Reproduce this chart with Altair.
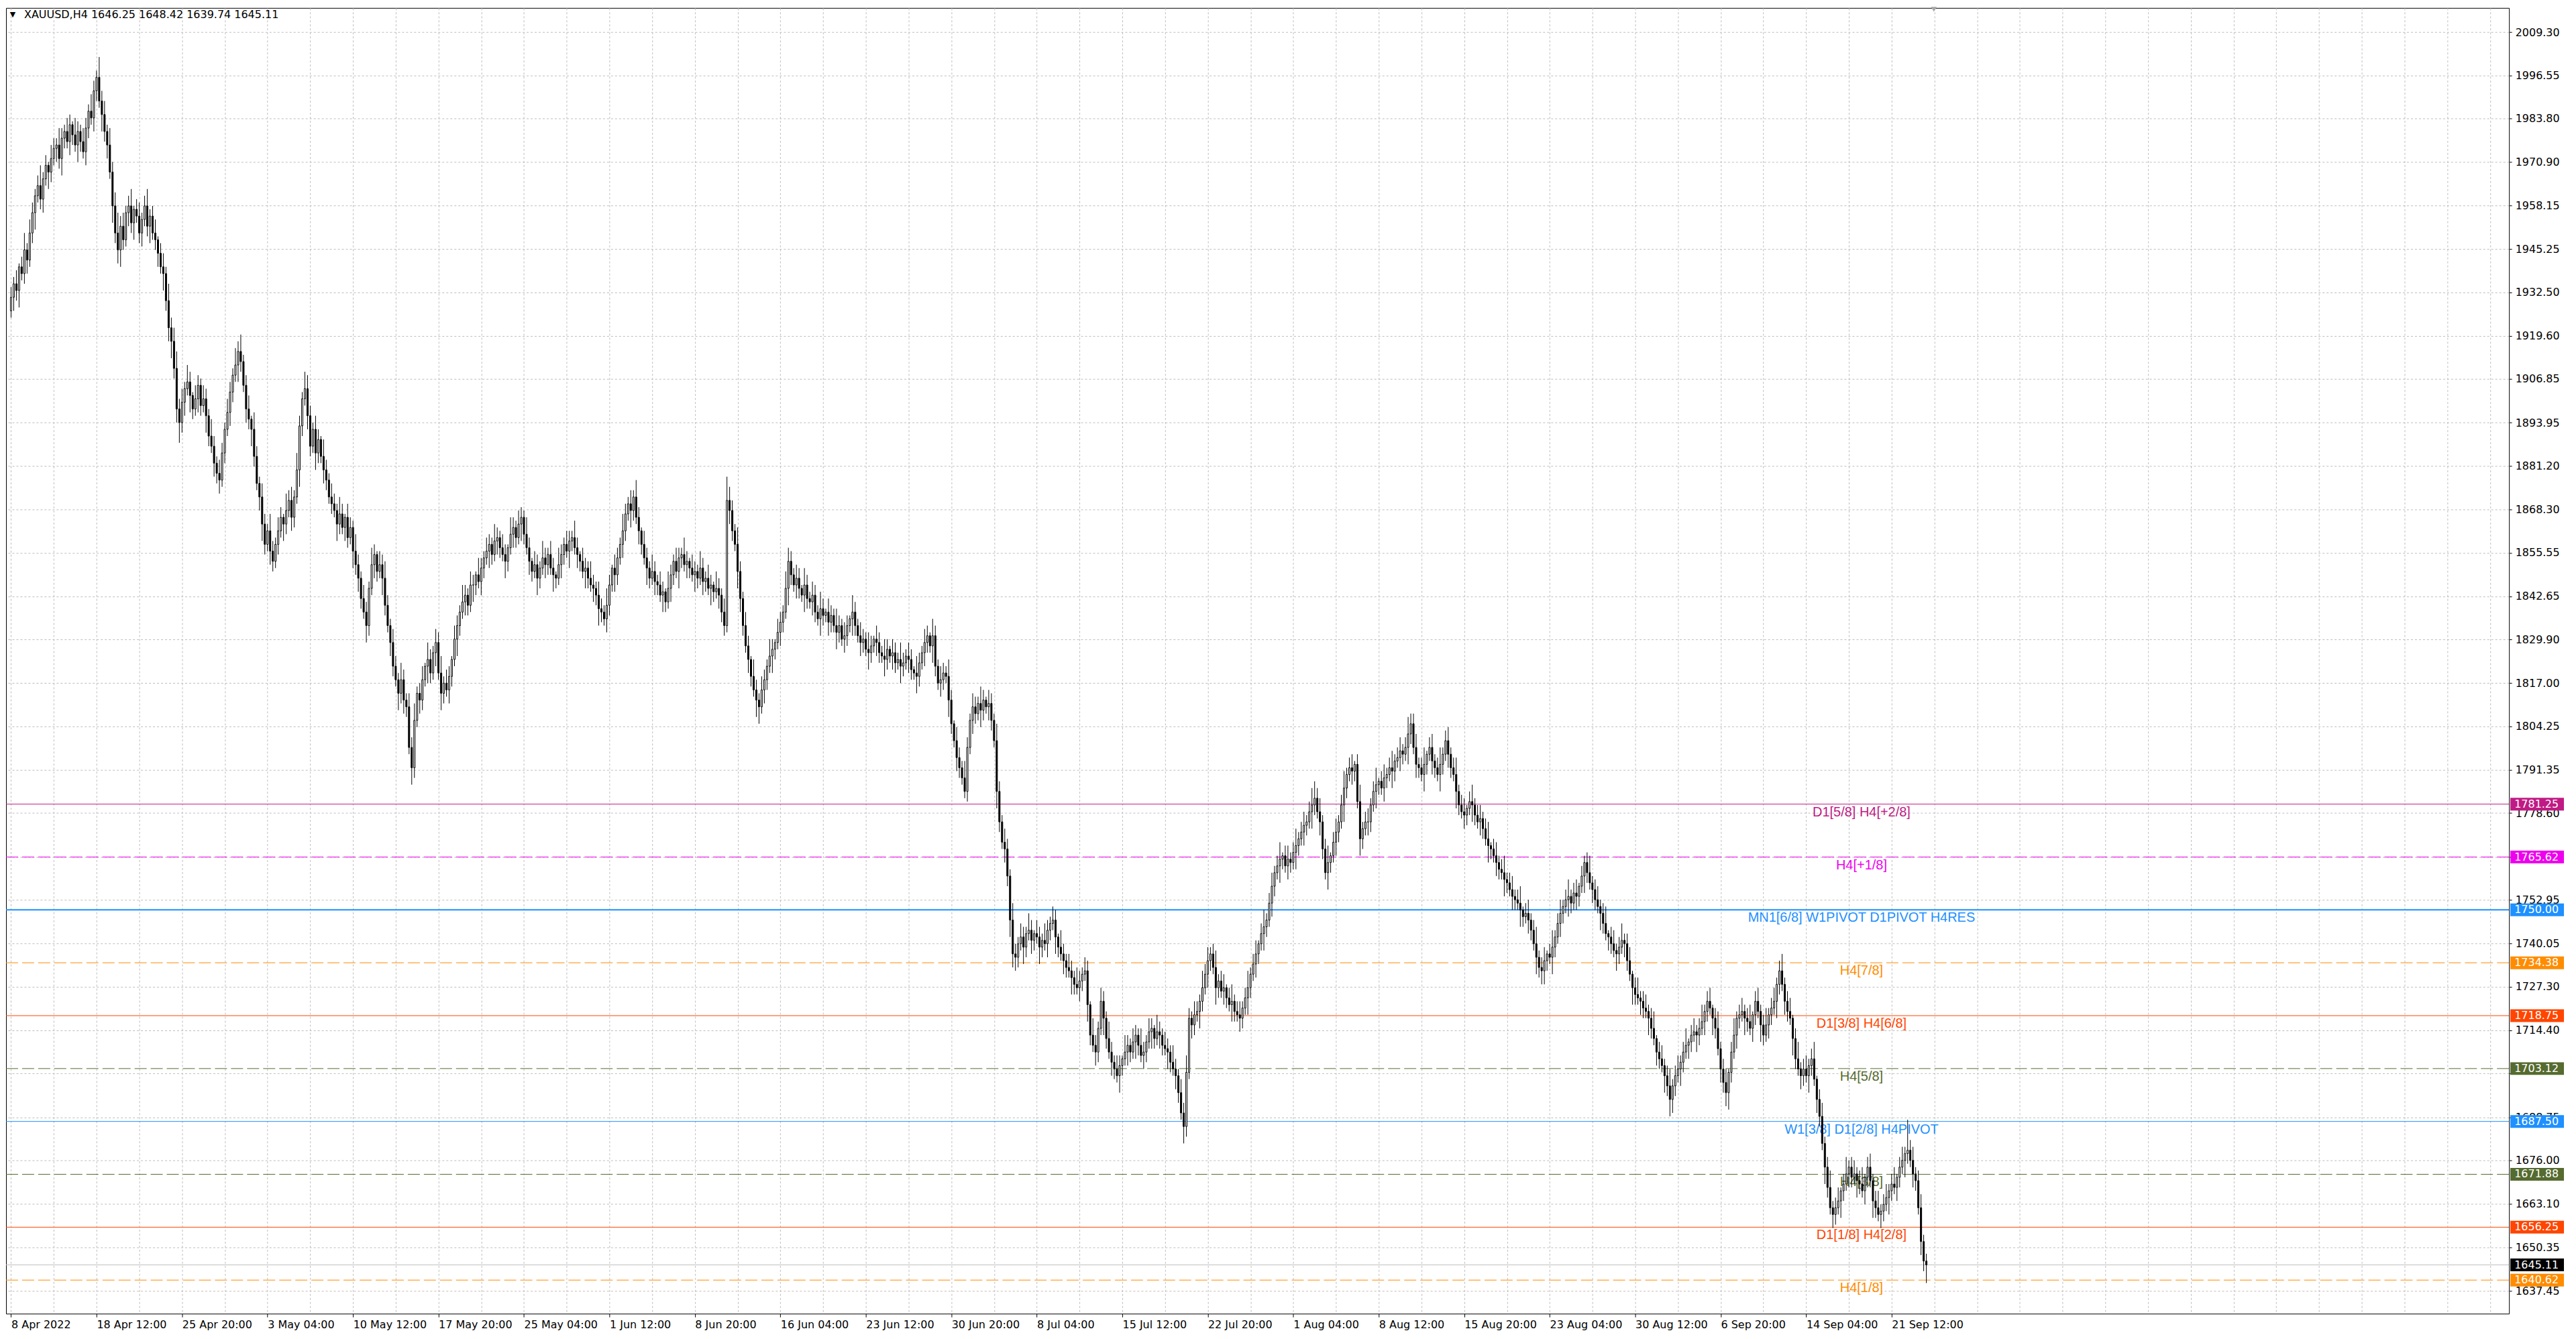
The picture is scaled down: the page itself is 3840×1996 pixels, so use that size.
import altair as alt
import pandas as pd

symbol = "XAUUSD,H4"
first_open = 1927.0

closes = [
    1931,1935,1933,1940,1938,1945,1942,1950,1956,1961,1964,1960,1966,1970,1968,1972,1975,1976,1972,1978,
    1980,1977,1982,1979,1976,1980,1977,1974,1981,1986,1984,1992,1996,1989,1985,1980,1976,1968,1958,1950,
    1945,1952,1948,1956,1958,1953,1957,1955,1950,1954,1958,1952,1955,1950,1948,1944,1940,1938,1930,1922,
    1918,1910,1898,1894,1900,1904,1906,1902,1898,1901,1905,1899,1901,1896,1890,1887,1882,1879,1877,1885,
    1892,1897,1903,1908,1911,1915,1912,1905,1898,1895,1892,1884,1876,1872,1864,1858,1862,1856,1853,1858,
    1862,1866,1864,1868,1871,1866,1872,1880,1893,1901,1904,1896,1887,1892,1885,1889,1884,1880,1877,1872,
    1870,1868,1864,1867,1863,1866,1860,1863,1856,1852,1848,1842,1838,1834,1845,1852,1855,1850,1852,1848,
    1840,1834,1829,1822,1818,1814,1818,1812,1810,1798,1792,1806,1814,1812,1818,1822,1824,1820,1826,1829,
    1820,1814,1817,1815,1819,1824,1830,1834,1838,1841,1843,1840,1846,1846,1849,1847,1851,1854,1856,1858,
    1855,1859,1860,1857,1855,1853,1857,1861,1863,1860,1864,1866,1861,1857,1853,1850,1852,1848,1851,1854,
    1852,1855,1851,1849,1848,1852,1855,1858,1856,1859,1860,1857,1855,1853,1850,1851,1848,1846,1845,1843,
    1839,1838,1836,1840,1846,1851,1849,1854,1858,1862,1867,1870,1868,1872,1866,1862,1858,1854,1851,1848,
    1850,1847,1846,1843,1844,1841,1845,1849,1853,1850,1854,1855,1852,1853,1851,1849,1850,1848,1851,1847,
    1848,1845,1846,1844,1845,1843,1838,1834,1871,1868,1862,1858,1850,1842,1834,1828,1824,1819,1815,1812,
    1810,1815,1818,1822,1825,1827,1829,1832,1835,1838,1845,1853,1849,1846,1848,1845,1843,1846,1842,1841,
    1843,1838,1836,1839,1837,1838,1835,1837,1834,1832,1834,1830,1831,1834,1836,1838,1834,1831,1829,1830,
    1827,1826,1828,1830,1829,1826,1825,1824,1827,1825,1826,1823,1824,1822,1823,1825,1824,1821,1820,1819,
    1823,1826,1829,1831,1828,1831,1822,1817,1818,1820,1819,1812,1805,1800,1795,1792,1789,1785,1798,1806,
    1810,1808,1811,1809,1812,1810,1811,1806,1800,1785,1776,1770,1768,1760,1747,1737,1736,1740,1742,1739,
    1743,1744,1741,1743,1742,1739,1741,1740,1744,1746,1747,1742,1739,1737,1735,1733,1732,1730,1728,1727,
    1729,1731,1732,1722,1713,1710,1708,1715,1723,1718,1712,1708,1705,1703,1701,1704,1706,1708,1710,1708,
    1711,1713,1710,1707,1708,1711,1714,1715,1712,1714,1713,1710,1709,1708,1705,1703,1701,1696,1690,1686,
    1702,1718,1716,1719,1720,1723,1727,1731,1735,1737,1733,1727,1729,1726,1727,1724,1722,1723,1720,1719,
    1718,1721,1724,1727,1731,1734,1737,1740,1743,1745,1747,1752,1757,1761,1763,1765,1766,1763,1765,1764,
    1767,1769,1771,1773,1775,1776,1779,1781,1783,1779,1776,1768,1761,1764,1766,1770,1773,1776,1781,1786,
    1790,1792,1791,1793,1782,1771,1774,1776,1776,1781,1785,1787,1788,1786,1789,1790,1792,1791,1794,1795,
    1797,1796,1798,1802,1805,1798,1793,1792,1790,1793,1796,1798,1794,1792,1790,1793,1796,1800,1796,1792,
    1790,1785,1781,1779,1778,1780,1782,1781,1778,1776,1777,1774,1771,1769,1768,1766,1764,1762,1761,1759,
    1758,1756,1754,1753,1752,1750,1748,1749,1747,1744,1740,1736,1733,1732,1735,1737,1736,1739,1742,1746,
    1749,1751,1753,1754,1752,1755,1754,1757,1760,1764,1761,1758,1756,1753,1751,1749,1746,1743,1742,1740,
    1738,1737,1739,1741,1740,1735,1731,1727,1725,1724,1723,1721,1720,1718,1715,1712,1708,1706,1704,1701,
    1698,1694,1698,1701,1703,1705,1708,1710,1711,1713,1714,1713,1715,1717,1720,1723,1721,1718,1715,1709,
    1703,1699,1696,1702,1708,1713,1718,1719,1720,1718,1717,1715,1719,1723,1720,1716,1713,1716,1719,1721,
    1723,1728,1732,1728,1723,1720,1718,1712,1706,1703,1701,1703,1701,1704,1706,1700,1694,1689,1681,1674,
    1668,1662,1660,1662,1664,1667,1669,1672,1674,1671,1672,1670,1669,1667,1671,1674,1670,1664,1662,1660,
    1661,1663,1665,1667,1669,1668,1671,1674,1676,1678,1679,1676,1672,1670,1662,1652,1646.25,1645.11,
]

wick_up = [
    3,2,4,1,3,5,2,4,3,2,3,6,2,3,1,4,3,2,5,3,
    2,4,3,1,5,3,2,4,3,2,5,3,2,6,3,4,2,5,3,4,
    6,3,4,2,3,5,1,3,4,2,3,5,2,3,4,1,3,4,2,5,
    3,4,5,3,4,2,5,3,1,4,3,2,4,3,2,5,3,2,4,3,
    2,4,3,2,5,3,5,2,3,4,1,5,3,2,4,3,2,5,3,2,
    4,3,1,5,3,4,2,5,3,2,5,4,3,2,4,3,1,5,3,2,
    4,3,2,5,3,1,4,3,2,5,3,2,4,3,2,5,3,1,4,3,
    5,3,2,4,3,2,5,3,2,4,3,5,2,3,4,1,5,3,2,4,
    3,5,2,4,3,1,4,3,2,5,3,2,4,3,1,5,3,2,4,3,
    2,5,3,2,4,3,1,5,3,2,4,3,2,5,3,1,4,3,2,5,
    3,2,4,3,1,5,3,2,4,3,2,5,3,1,4,3,2,5,3,2,
    4,3,2,5,3,1,4,3,2,5,3,2,4,2,5,3,1,4,3,2,
    5,3,2,4,3,1,5,3,2,4,3,2,5,3,1,4,3,2,5,3,
    2,4,3,1,5,3,2,4,7,4,3,2,5,3,2,4,3,1,5,3,
    2,4,3,2,5,3,1,4,3,2,5,4,3,2,4,3,1,5,3,2,
    4,3,2,5,3,1,4,3,2,5,3,2,4,3,1,5,3,2,4,3,
    2,5,3,1,4,3,2,5,3,1,4,3,2,5,3,2,4,3,1,5,
    3,2,4,3,1,5,3,2,4,3,2,5,3,1,4,3,2,5,3,2,
    4,3,2,5,3,1,4,3,2,5,3,2,4,3,2,5,3,2,4,3,
    2,5,3,1,4,3,2,5,3,2,4,3,1,5,3,2,4,3,2,5,
    3,2,4,3,1,5,3,2,4,3,2,5,3,2,4,3,1,5,3,2,
    4,3,2,5,3,2,4,3,1,5,3,2,4,3,2,5,3,2,4,3,
    5,3,2,4,3,2,5,3,4,2,3,5,2,3,4,1,3,5,2,3,
    4,2,3,5,2,3,4,1,3,5,2,3,4,2,3,5,1,3,4,2,
    3,5,2,3,4,2,3,5,5,3,4,2,3,5,1,3,4,2,3,5,
    2,3,4,1,3,5,2,3,4,2,3,5,1,3,4,2,3,5,2,3,
    4,2,3,5,3,3,4,2,3,5,1,3,4,2,3,5,2,3,4,2,
    3,5,2,3,4,1,3,5,2,3,4,2,3,5,1,3,4,2,3,5,
    2,3,4,2,3,5,1,3,4,2,3,5,2,3,4,1,3,5,2,3,
    4,2,3,5,2,3,4,1,3,2,3,5,2,3,4,2,3,5,1,3,
    4,2,3,5,2,3,4,1,3,5,2,3,4,2,3,5,1,3,4,2,
    3,5,2,3,4,2,3,5,1,3,4,2,3,5,2,3,4,1,3,5,
    2,3,4,1,3,5,2,3,4,2,3,5,1,3,4,2,3,5,2,3,
    4,2,3,5,2,3,4,1,3,5,2,3,4,2,3,5,1,3,4,2,
    3,5,2,3,4,1,3,5,2,3,4,2,3,5,1,3,4,2,3,5,
    2,3,4,2,3,5,1,3,4,2,9,3,4,2,3,4,2,2.17,
]

wick_dn = [
    2,4,3,5,2,3,4,2,3,5,2,3,4,2,5,3,2,4,3,5,
    3,2,4,3,2,5,3,2,4,3,2,4,3,2,5,3,4,2,5,3,
    4,5,3,2,4,3,5,2,3,4,2,3,5,2,3,4,2,5,3,4,
    5,3,4,6,3,4,2,5,3,2,4,3,2,5,3,2,4,3,4,2,
    3,2,4,3,2,5,3,2,4,3,5,3,2,4,5,3,2,4,3,2,
    3,2,5,3,2,4,3,2,5,3,2,4,3,2,5,3,2,4,3,2,
    3,2,5,3,2,4,3,2,5,3,4,3,2,5,3,2,4,3,2,5,
    3,2,4,3,2,5,3,4,3,2,5,3,2,4,3,2,5,3,2,4,
    2,5,3,2,4,3,2,5,3,2,4,3,2,5,3,2,4,3,2,5,
    3,2,4,3,2,5,3,2,4,3,2,5,3,2,4,3,2,5,3,2,
    4,3,2,5,3,2,4,3,2,5,3,2,4,3,2,5,3,2,4,3,
    5,3,2,4,3,2,5,3,2,4,3,2,5,3,2,4,3,2,5,3,
    2,4,3,2,5,3,2,4,3,2,5,3,2,4,3,2,5,3,2,4,
    3,2,5,3,2,4,3,3,2,4,3,2,5,4,3,2,4,3,2,5,
    5,2,4,3,2,5,3,2,4,3,2,5,3,2,4,3,2,5,3,2,
    4,3,2,5,3,2,4,3,2,5,3,2,4,3,2,5,3,2,4,3,
    2,5,3,2,4,3,2,5,3,2,4,3,2,5,3,2,4,3,2,5,
    3,2,4,3,2,5,3,2,4,3,2,5,3,2,4,3,2,2,3,2,
    4,3,2,5,3,2,4,3,2,5,3,2,4,3,5,4,4,3,2,5,
    3,2,4,3,2,5,3,2,4,3,2,5,3,2,4,3,2,5,3,2,
    4,3,2,5,3,2,4,3,2,5,3,2,4,3,2,5,3,2,4,3,
    2,5,3,2,4,3,2,5,3,2,4,3,2,5,3,2,4,3,2,5,
    3,2,4,3,2,5,3,2,4,3,2,5,3,2,4,3,2,5,3,2,
    4,3,2,5,3,2,4,3,2,5,3,2,4,3,2,5,3,2,4,3,
    2,5,3,2,4,3,2,5,3,2,4,3,2,5,3,2,4,3,2,5,
    3,2,4,3,2,5,3,2,4,3,2,5,3,2,4,3,2,5,3,2,
    4,3,2,5,3,2,4,3,2,5,3,2,4,3,2,5,3,2,4,3,
    2,5,3,2,4,3,2,5,3,2,4,3,2,5,3,2,4,3,2,5,
    3,2,4,3,2,5,3,2,4,3,2,5,3,4,4,3,2,5,3,2,
    4,3,2,5,3,2,4,3,2,5,3,2,4,3,2,5,3,2,4,3,
    2,5,3,2,4,3,2,5,3,2,4,3,2,5,3,2,4,3,2,5,
    3,5,4,3,2,5,3,2,4,3,2,5,3,2,4,3,2,5,3,2,
    4,3,4,5,3,2,4,3,2,5,3,2,4,3,2,5,3,2,4,3,
    2,5,3,2,4,3,2,5,3,2,4,3,2,5,3,2,4,3,2,5,
    3,2,4,3,2,5,3,2,4,3,2,5,3,2,4,3,2,5,3,2,
    4,3,2,5,3,2,4,3,2,5,3,2,4,3,2,4,3,5.37,
]

xlabels = ["8 Apr 2022", "18 Apr 12:00", "25 Apr 20:00", "3 May 04:00", "10 May 12:00",
           "17 May 20:00", "25 May 04:00", "1 Jun 12:00", "8 Jun 20:00", "16 Jun 04:00",
           "23 Jun 12:00", "30 Jun 20:00", "8 Jul 04:00", "15 Jul 12:00", "22 Jul 20:00",
           "1 Aug 04:00", "8 Aug 12:00", "15 Aug 20:00", "23 Aug 04:00", "30 Aug 12:00",
           "6 Sep 20:00", "14 Sep 04:00", "21 Sep 12:00"]

ytick_values = [2009.30, 1996.55, 1983.80, 1970.90, 1958.15, 1945.25, 1932.50, 1919.60,
                1906.85, 1893.95, 1881.20, 1868.30, 1855.55, 1842.65, 1829.90, 1817.00,
                1804.25, 1791.35, 1778.60, 1765.70, 1752.95, 1740.05, 1727.30, 1714.40,
                1701.65, 1688.75, 1676.00, 1663.10, 1650.35, 1637.45]
# tick whose label the reference hides under a price box
hidden_ylabels = [1701.65]

level_values = [1781.25, 1765.62, 1750.00, 1734.38, 1718.75, 1703.12, 1687.50, 1671.88, 1656.25, 1640.62]
level_names = ["D1[5/8] H4[+2/8]", "H4[+1/8]", "MN1[6/8] W1PIVOT D1PIVOT H4RES", "H4[7/8]",
               "D1[3/8] H4[6/8]", "H4[5/8]", "W1[3/8] D1[2/8] H4PIVOT", "H4[3/8]",
               "D1[1/8] H4[2/8]", "H4[1/8]"]

# styles
level_colors = ["#C01A84", "#EE00EE", "#1E90FF", "#FF8C00", "#FF4500", "#556B2F",
                "#1E90FF", "#556B2F", "#FF4500", "#FF8C00"]
level_dashed = [False, True, False, True, False, True, False, True, False, True]
level_widths = [1, 1, 2, 1, 1, 1, 1, 1, 1, 1]

W = 3738
H = 1950
BAR_STEP = 32
GRID_STEP = 16

n = min(len(closes), len(wick_up), len(wick_dn))
opens = [first_open] + closes[:n - 1]
rows = []
for i in range(n):
    o = opens[i]
    c = closes[i]
    rows.append({"i": i, "open": o, "close": c,
                 "high": max(o, c) + wick_up[i],
                 "low": min(o, c) - wick_dn[i]})
df = pd.DataFrame(rows)

last = rows[-1]
header = f"{symbol}  {last['open']:.2f} {last['high']:.2f} {last['low']:.2f} {last['close']:.2f}"

lv = pd.DataFrame({"level": level_values, "name": level_names, "color": level_colors,
                   "dashed": level_dashed, "w": level_widths})
lv_solid = lv[~lv["dashed"]]
lv_dash = lv[lv["dashed"]]

boxes = pd.DataFrame({"level": level_values + [last["close"]],
                      "color": level_colors + ["#000000"]})

xscale = alt.Scale(domain=[-0.625, W / 4.0 - 0.625], nice=False, zero=False)
yscale = alt.Scale(domain=[1630.7, 2016.5], nice=False, zero=False)

grid_vals = list(range(0, int(W / 4), GRID_STEP))
last_lab = (len(xlabels) - 1) * BAR_STEP
arr = "[" + ",".join("'" + s + "'" for s in xlabels) + "]"
label_expr = (f"(datum.value % {BAR_STEP} == 0 && datum.value <= {last_lab}) ? "
              f"{arr}[datum.value / {BAR_STEP}] : ''")
hide_test = " || ".join(f"abs(datum.value - {v}) < 0.001" for v in hidden_ylabels) or "false"
ylabel_expr = f"({hide_test}) ? '' : format(datum.value, '.2f')"

xaxis = alt.Axis(values=grid_vals, labelExpr=label_expr, grid=True, gridDash=[3, 3],
                 gridColor="#BDBDBD", gridWidth=1, domain=False, tickSize=5,
                 tickColor="black",
                 tickOpacity={"condition": {"test": f"datum.value % {BAR_STEP} != 0 || datum.value > {last_lab}",
                                            "value": 0}, "value": 1},
                 labelFont="DejaVu Sans", labelFontSize=16, labelColor="black",
                 labelAlign="left", labelOffset=0, labelPadding=3, labelFlush=False,
                 labelOverlap=False, title=None)
yaxis = alt.Axis(orient="right", values=ytick_values, labelExpr=ylabel_expr, grid=True,
                 gridDash=[3, 3], gridColor="#BDBDBD", gridWidth=1, domain=False,
                 tickSize=4, tickColor="black", labelFont="DejaVu Sans", labelFontSize=16,
                 labelColor="black", labelPadding=5, labelOverlap=False, labelFlush=False,
                 title=None)

X = alt.X("i:Q", scale=xscale, axis=xaxis)

wicks = alt.Chart(df).mark_rule(color="black", strokeWidth=1).encode(
    x=X,
    y=alt.Y("low:Q", scale=yscale, axis=yaxis),
    y2="high:Q",
)
bodies = alt.Chart(df).mark_bar(size=2, stroke="black", strokeWidth=1).encode(
    x=X,
    y=alt.Y("open:Q", scale=yscale, axis=yaxis),
    y2="close:Q",
    fill=alt.condition("datum.close >= datum.open", alt.value("white"), alt.value("black")),
)

solid_lines = alt.Chart(lv_solid).mark_rule().encode(
    y=alt.Y("level:Q", scale=yscale, axis=yaxis),
    color=alt.Color("color:N", scale=None),
    strokeWidth=alt.StrokeWidth("w:Q", scale=None),
)
dash_lines = alt.Chart(lv_dash).mark_rule(strokeDash=[18, 6], strokeWidth=1).encode(
    y=alt.Y("level:Q", scale=yscale, axis=yaxis),
    color=alt.Color("color:N", scale=None),
)
price_line = alt.Chart(pd.DataFrame({"p": [last["close"]]})).mark_rule(
    color="#C0C0C0", strokeWidth=1).encode(
    y=alt.Y("p:Q", scale=yscale, axis=yaxis),
)
level_text = alt.Chart(lv).mark_text(font="Liberation Sans", fontSize=20, align="center",
                                     baseline="top", dy=2).encode(
    x=alt.value(2771),
    y=alt.Y("level:Q", scale=yscale, axis=yaxis),
    text="name:N",
    color=alt.Color("color:N", scale=None),
)
box_rect = alt.Chart(boxes).mark_rule(strokeWidth=19).encode(
    x=alt.value(W + 2), x2=alt.value(W + 82),
    y=alt.Y("level:Q", scale=yscale, axis=yaxis),
    color=alt.Color("color:N", scale=None),
)
box_text = alt.Chart(boxes).mark_text(font="DejaVu Sans", fontSize=16, align="left",
                                      baseline="middle", color="white").encode(
    x=alt.value(W + 8),
    y=alt.Y("level:Q", scale=yscale, axis=yaxis),
    text=alt.Text("level:Q", format=".2f"),
)
head = alt.Chart(pd.DataFrame({"t": [header]})).mark_text(
    font="DejaVu Sans", fontSize=16, align="left", baseline="middle", color="black").encode(
    x=alt.value(27), y=alt.value(10), text="t:N")
tri = alt.Chart(pd.DataFrame({"t": ["\u25BC"]})).mark_text(
    font="DejaVu Sans", fontSize=11, align="center", baseline="middle", color="black").encode(
    x=alt.value(10), y=alt.value(10), text="t:N")
shift_mark = alt.Chart(pd.DataFrame({"t": [1]})).mark_point(
    shape="triangle-down", filled=True, color="#A8A8A8", size=70, opacity=1).encode(
    x=alt.value(2879), y=alt.value(2))

chart = alt.layer(
    solid_lines, dash_lines, price_line, level_text, wicks, bodies,
    box_rect, box_text, head, tri, shift_mark
).properties(
    width=W, height=H, padding=0, background="white"
).configure_view(
    stroke="black", strokeWidth=1
)

chart.save("out.html", embed_options={"renderer": "svg", "actions": False})
